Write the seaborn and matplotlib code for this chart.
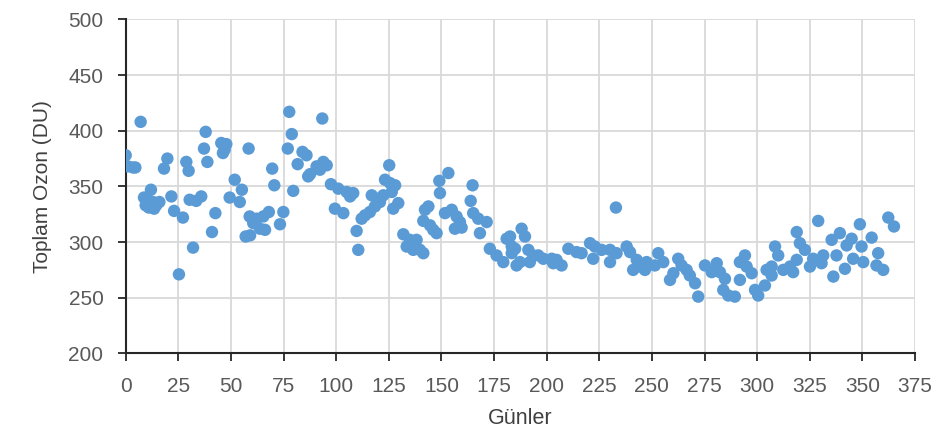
import matplotlib
matplotlib.use("Agg")
import matplotlib.pyplot as plt
import seaborn as sns
import pandas as pd

# Days (x) and total ozone (y), grouped by day range
days_1 = [0, 1, 3.5, 4.6, 7.1, 8.7, 9.5, 10.5, 11, 12, 13, 13.5, 14.5, 16, 18.2, 19.8, 21.7, 23, 25.3, 27.2, 28.8, 29.9, 30.4]
ozone_1 = [378, 368, 367, 367, 408, 340, 333, 338, 331, 347, 336, 330, 333, 336, 366, 375, 341, 328, 271, 322, 372, 364, 338]

days_2 = [32, 33.5, 35.9, 37.2, 38, 38.8, 41, 42.6, 45.4, 46.2, 47, 47.8, 49.4, 51.8, 54.2, 55.2, 57, 58.4, 58.9, 59.1, 60.6]
ozone_2 = [295, 337, 341, 384, 399, 372, 309, 326, 389, 380, 383, 388, 340, 356, 336, 347, 305, 384, 323, 306, 317]

days_3 = [62.2, 63.8, 65.4, 66.2, 68, 69.6, 70.6, 73.3, 74.9, 77, 77.7, 78.9, 79.6, 81.7, 84, 85.9, 86.7, 87.6, 90.7, 92.3, 93.4, 93.9, 95.5, 97.5, 99.4]
ozone_3 = [321, 312, 323, 311, 327, 366, 351, 316, 327, 384, 417, 397, 346, 370, 381, 378, 359, 361, 368, 365, 411, 372, 369, 352, 330]

days_4 = [101, 103.4, 105, 106.6, 108.1, 109.7, 110.5, 112.1, 113.7, 116, 116.9, 118.4, 119.2, 120.8, 122.4, 123.2, 125.2, 125.6, 126.4, 127.1, 128, 129.5, 131.9, 133.5, 135, 136.6, 138.2, 139.8]
ozone_4 = [348, 326, 345, 341, 344, 310, 293, 321, 324, 327, 342, 332, 339, 336, 342, 356, 369, 353, 345, 330, 351, 335, 307, 296, 302, 293, 302, 293]

days_5 = [141.4, 141.4, 142.2, 143.8, 144.6, 146.1, 147.7, 149, 149.3, 151.7, 153.3, 154.9, 156.4, 157.2, 158.8, 159.6, 163.9, 164.8, 165.1, 167.5, 168.3, 171.5, 173, 176.2, 179.4]
ozone_5 = [290, 319, 329, 332, 315, 311, 308, 355, 344, 326, 362, 329, 312, 323, 318, 313, 337, 351, 326, 321, 308, 318, 294, 288, 282]

days_6 = [181, 182.6, 183.4, 183.4, 185, 185.7, 187.3, 188.1, 189.7, 191.3, 192, 193.6, 196, 198.4, 202.4, 203.1, 204.7, 207.1, 210.3, 214.2, 216.6, 220.6, 222.1, 222.9, 226.1, 230.1, 230.1, 232.9, 233.2, 238, 239.6]
ozone_6 = [303, 305, 296, 290, 294, 279, 282, 312, 305, 293, 282, 288, 288, 285, 285, 281, 284, 279, 294, 291, 290, 299, 285, 296, 293, 293, 282, 331, 290, 296, 291]

days_7 = [241.1, 242.8, 244.3, 246.7, 247.5, 251.4, 253, 255.4, 258.6, 260.2, 262.5, 264.1, 266.5, 268, 270.5, 272, 275.2, 278.4, 280.8, 282.3, 283.9, 284.7, 286.3, 289.4, 291.8, 291.8, 294.2, 295, 297.4, 299, 300.5]
ozone_7 = [275, 284, 278, 275, 282, 279, 290, 282, 266, 272, 285, 279, 275, 270, 263, 251, 279, 273, 281, 273, 257, 267, 252, 251, 282, 266, 288, 278, 272, 257, 252]

days_8 = [303.7, 304.5, 306.9, 306.9, 308.5, 310, 312.4, 315.6, 317.1, 318.8, 318.8, 320.3, 322.7, 325.1, 326.6, 329, 330.6, 331.4, 335.4, 336.2, 337.7, 339.3, 341.7, 342.5, 344.9, 345.6, 348.8, 349.6, 350.4, 354.4, 356.7, 357.5, 359.9, 362.3, 365]
ozone_8 = [261, 275, 278, 270, 296, 288, 275, 278, 273, 309, 284, 299, 293, 278, 285, 319, 281, 288, 302, 269, 288, 308, 276, 297, 303, 285, 316, 296, 282, 304, 279, 290, 275, 322, 314]

x_ticks = list(range(0, 376, 25))
y_ticks = list(range(200, 501, 50))

days = days_1 + days_2 + days_3 + days_4 + days_5 + days_6 + days_7 + days_8
ozone = ozone_1 + ozone_2 + ozone_3 + ozone_4 + ozone_5 + ozone_6 + ozone_7 + ozone_8
df = pd.DataFrame({"Günler": days, "Toplam Ozon (DU)": ozone})

sns.set_theme(style="white")
plt.rcParams["font.family"] = ["Liberation Sans", "DejaVu Sans"]

fig = plt.figure(figsize=(9.38, 4.32), dpi=100)
ax = fig.add_axes([0.134, 0.182, 0.8415, 0.773])

sns.scatterplot(data=df, x="Günler", y="Toplam Ozon (DU)", ax=ax,
                color="#5b9bd5", s=80, edgecolor="none", linewidth=0, zorder=3)

ax.set_xlim(0, 375)
ax.set_ylim(200, 500)
ax.set_xticks(x_ticks)
ax.set_yticks(y_ticks)
ax.grid(True, color="#d9d9d9", linewidth=1.3)
ax.set_axisbelow(True)

for side in ["top", "right"]:
    ax.spines[side].set_visible(False)
for side in ["left", "bottom"]:
    ax.spines[side].set_color("#262626")
    ax.spines[side].set_linewidth(1.5)

ax.tick_params(axis="both", which="both", direction="out", length=6, width=1.3,
               color="#262626", labelsize=15, labelcolor="#595959",
               left=True, bottom=True)
ax.tick_params(axis="x", pad=11)
ax.tick_params(axis="y", pad=10)
ax.set_xlabel("Günler", fontsize=15.5, color="#404040", labelpad=9)
ax.set_ylabel("Toplam Ozon (DU)", fontsize=15, color="#404040", labelpad=12)

fig.savefig("out.png", dpi=100)
